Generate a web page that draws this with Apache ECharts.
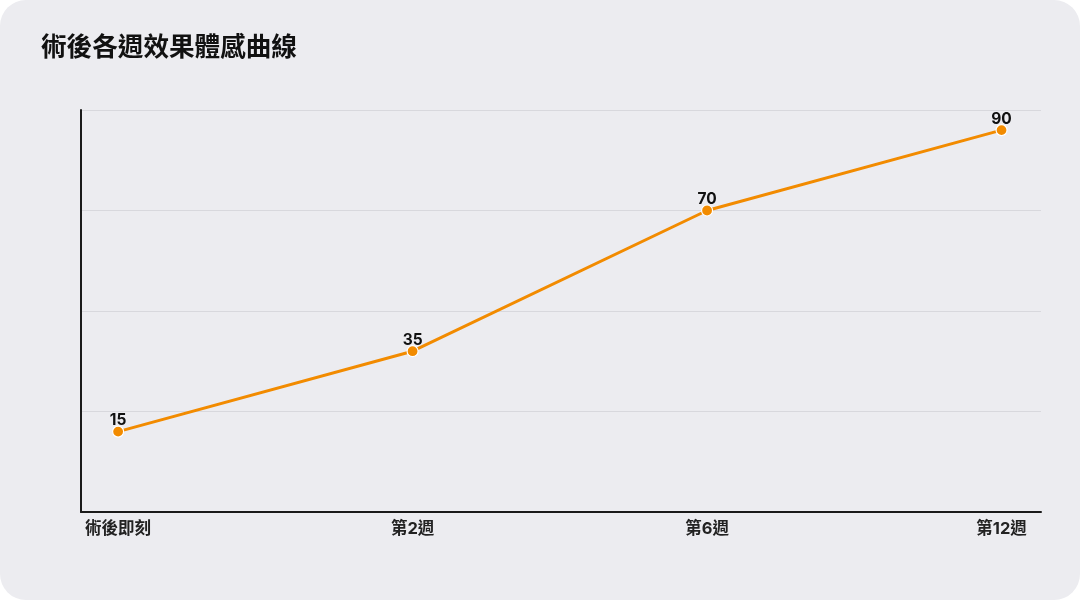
<!DOCTYPE html>
<html><head><meta charset="utf-8">
<script src="https://cdn.jsdelivr.net/npm/echarts@6/dist/echarts.min.js"></script>
<style>
html,body{margin:0;padding:0;background:#ffffff;}
#card{position:absolute;left:0;top:0;width:1080px;height:600px;background:#ececf0;border-radius:26px;overflow:hidden;}
#c{width:1080px;height:600px;}
</style></head>
<body><div id="card"><div id="c"></div></div>
<script>
const title = '術後各週效果體感曲線';
const categories = ['術後即刻','第2週','第6週','第12週'];
const values = [15, 35, 70, 90];

const font = 'Inter,"Noto Sans CJK TC","Noto Sans CJK SC",sans-serif';
const chart = echarts.init(document.getElementById('c'), null, {renderer:'canvas'});
chart.setOption({
  backgroundColor: 'transparent',
  animation: false,
  title: {text: title, left: 36, top: 30, textStyle:{fontFamily: font, fontSize: 25.6, fontWeight: 'bold', color:'#111'}},
  grid: {left: 81, right: 39, top: 110, bottom: 88, containLabel: false},
  xAxis: {
    type: 'value', min: -0.126, max: 3.134,
    axisLine: {show: true, onZero: false, lineStyle: {color: '#1a1a1a', width: 2}},
    axisTick: {show: false},
    splitLine: {show: false},
    axisLabel: {
      customValues: categories.map((c,i)=>i),
      formatter: v => categories[Math.round(v)] || '',
      fontFamily: font, fontSize: 16.5, fontWeight: 'bold', color: '#222', margin: 9
    }
  },
  yAxis: [{
    type: 'value', min: -5, max: 95,
    axisLine: {show: true, onZero: false, lineStyle: {color: '#1a1a1a', width: 2}},
    axisTick: {show: false}, axisLabel: {show: false}, splitLine: {show: false}
  },{
    type: 'value', min: 0, max: 100, interval: 25, position: 'left',
    axisLine: {show: false}, axisTick: {show: false}, axisLabel: {show: false},
    splitLine: {show: true, lineStyle: {color: '#d8d8dd', width: 1}}
  }],
  series: [{
    type: 'line', yAxisIndex: 0,
    data: values.map((v,i)=>[i, v]),
    symbol: 'circle', symbolSize: 11,
    lineStyle: {color: '#f28b00', width: 3},
    itemStyle: {color: '#f28b00', borderColor: '#ffffff', borderWidth: 1.2},
    label: {show: true, position: 'top', distance: 0, offset: [0, 3], formatter: p => p.value[1],
      fontFamily: font, fontSize: 15.5, fontWeight: 'bold', color: '#111'},
    z: 5
  }]
});
</script></body></html>
